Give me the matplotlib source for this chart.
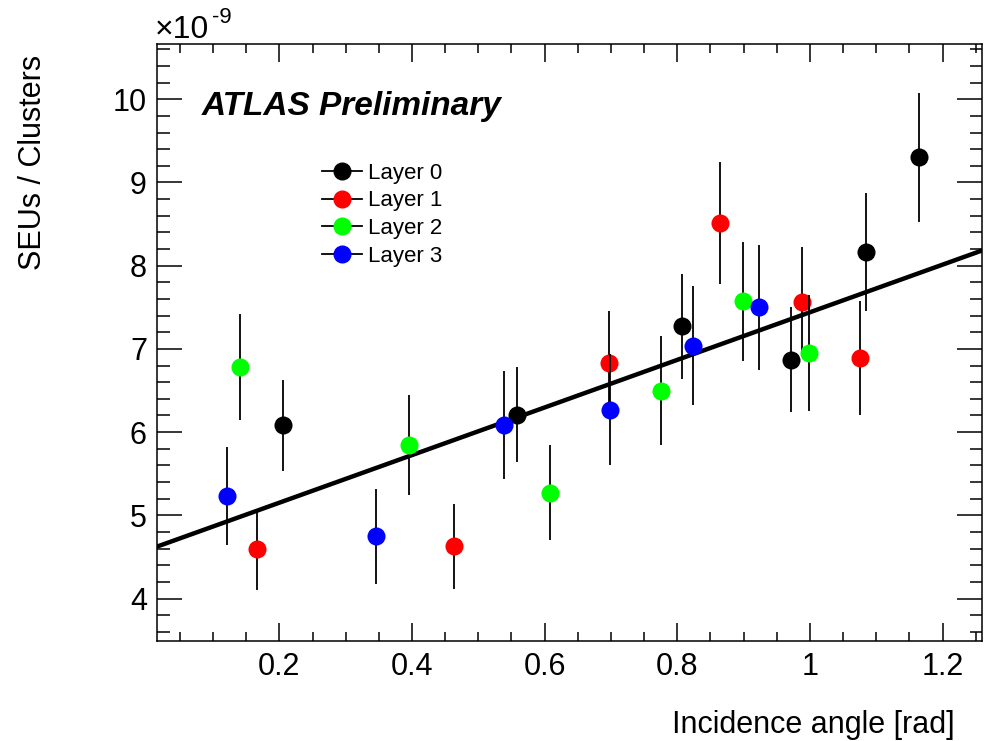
import matplotlib
matplotlib.use('Agg')
import matplotlib.pyplot as plt
from matplotlib.ticker import MultipleLocator
from matplotlib.lines import Line2D
import numpy as np

plt.rcParams['font.family'] = ['Liberation Sans', 'DejaVu Sans']

# Values in units of 1e-9 (SEUs / Clusters)
layer_names = ['Layer 0', 'Layer 1', 'Layer 2', 'Layer 3']
layer_colors = ['black', '#ff0000', '#00ff00', '#0000ff']

x_layer0 = [0.205, 0.558, 0.807, 0.971, 1.084, 1.164]
y_layer0 = [6.08, 6.21, 7.27, 6.87, 8.16, 9.30]
e_layer0 = [0.55, 0.57, 0.63, 0.63, 0.71, 0.77]

x_layer1 = [0.166, 0.463, 0.697, 0.865, 0.988, 1.076]
y_layer1 = [4.59, 4.63, 6.83, 8.51, 7.56, 6.89]
e_layer1 = [0.49, 0.51, 0.62, 0.73, 0.66, 0.68]

x_layer2 = [0.140, 0.396, 0.608, 0.775, 0.899, 0.998]
y_layer2 = [6.78, 5.85, 5.27, 6.50, 7.57, 6.95]
e_layer2 = [0.64, 0.60, 0.57, 0.66, 0.72, 0.70]

x_layer3 = [0.121, 0.3455, 0.538, 0.699, 0.824, 0.924]
y_layer3 = [5.23, 4.75, 6.09, 6.27, 7.04, 7.50]
e_layer3 = [0.59, 0.57, 0.65, 0.67, 0.72, 0.75]

# linear fit parameters
fit_p0 = 4.58
fit_p1 = 2.86

x_range = (0.015, 1.26)
y_range = (3.49, 10.66)

############################################################

W, H = 988, 741
fig = plt.figure(figsize=(W / 100, H / 100), dpi=100, facecolor='white')
ax = fig.add_axes([156.7 / W, 1 - 641 / H, (982.3 - 156.7) / W, (641 - 44.3) / H])

# Fit line
fx = np.linspace(x_range[0], x_range[1], 200)
ax.plot(fx, fit_p0 + fit_p1 * fx, color='black', lw=3.2, zorder=2)

# Data points per layer
layers = [(x_layer0, y_layer0, e_layer0),
          (x_layer1, y_layer1, e_layer1),
          (x_layer2, y_layer2, e_layer2),
          (x_layer3, y_layer3, e_layer3)]

for i, (xs, ys, es) in enumerate(layers):
	ax.errorbar(xs, ys, yerr=es, fmt='o', color=layer_colors[i], ecolor='black',
				elinewidth=1.3, capsize=0, markersize=13, markeredgewidth=0,
				zorder=3 + i)

ax.set_xlim(*x_range)
ax.set_ylim(*y_range)

# ROOT-style ticks
ax.xaxis.set_major_locator(MultipleLocator(0.2))
ax.xaxis.set_minor_locator(MultipleLocator(0.05))
ax.yaxis.set_major_locator(MultipleLocator(1))
ax.yaxis.set_minor_locator(MultipleLocator(0.2))
ax.xaxis.set_major_formatter(plt.FuncFormatter(lambda v, p: ('%g' % round(v, 2))))

ax.tick_params(which='both', direction='in', top=True, right=True, width=1.1, labelsize=22)
ax.tick_params(axis='x', which='major', length=13, pad=8)
ax.tick_params(axis='x', which='minor', length=6.5)
ax.tick_params(axis='y', which='major', length=18, pad=7)
ax.tick_params(axis='y', which='minor', length=9)
for s in ax.spines.values():
	s.set_linewidth(1.1)

# Axis titles
fig.text(33 / W, 1 - 55 / H, 'SEUs / Clusters', rotation=90, ha='center', va='top', fontsize=22)
fig.text(955 / W, 1 - 733 / H, 'Incidence angle [rad]', ha='right', va='baseline', fontsize=22)

# Exponent
fig.text(155 / W, 1 - 37.5 / H, '\u00d710', ha='left', va='baseline', fontsize=23)
fig.text(212 / W, 1 - 23 / H, '-9', ha='left', va='baseline', fontsize=16)

# ATLAS label
fig.text(202 / W, 1 - 115 / H, 'ATLAS Preliminary', ha='left', va='baseline',
		 fontsize=24, fontweight='bold', fontstyle='italic')

# Legend
handles = [Line2D([], [], color='black', lw=1.3, marker='o', markersize=12,
				  markerfacecolor=c, markeredgecolor=c) for c in layer_colors]
ax.legend(handles, layer_names, loc='center left', frameon=False, fontsize=16,
		  bbox_to_anchor=(321.7 / W, 1 - 214.7 / H), bbox_transform=fig.transFigure,
		  borderpad=0, borderaxespad=0, handlelength=1.8, handletextpad=0.3,
		  labelspacing=0.3)

plt.savefig('out.png', dpi=100, facecolor='white')
